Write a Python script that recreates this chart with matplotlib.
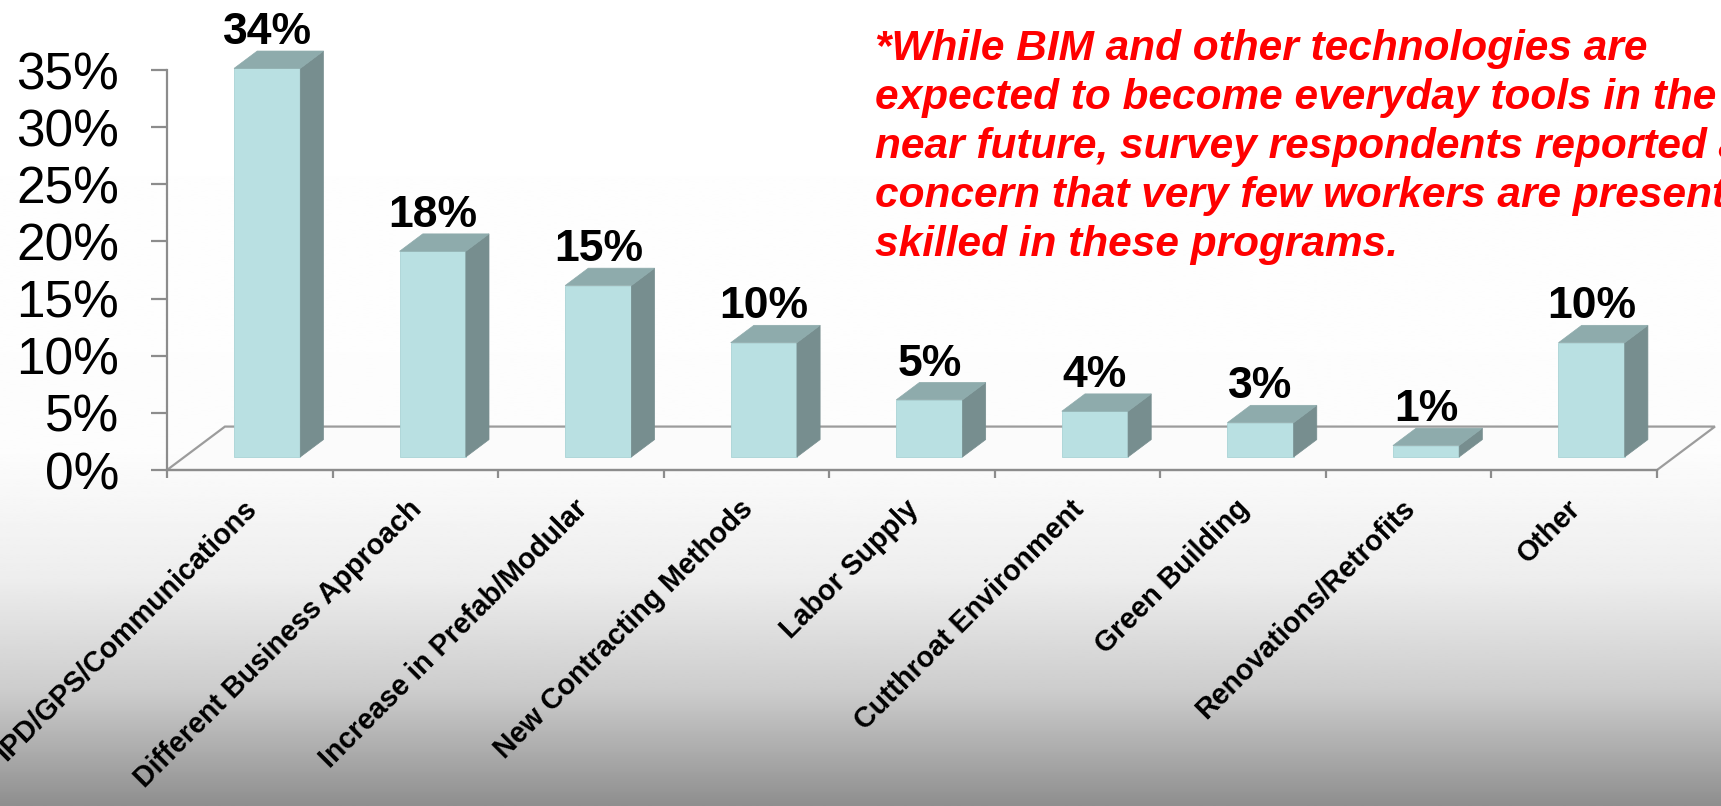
import numpy as np
import matplotlib.pyplot as plt
from matplotlib.patches import Polygon
from matplotlib.transforms import ScaledTranslation

# data
categories = ['IPD/GPS/Communications', 'Different Business Approach',
              'Increase in Prefab/Modular', 'New Contracting Methods',
              'Labor Supply', 'Cutthroat Environment', 'Green Building',
              'Renovations/Retrofits', 'Other']
shares = [34, 18, 15, 10, 5, 4, 3, 1, 10]
yticks = [0, 5, 10, 15, 20, 25, 30, 35]
note_lines = ['*While BIM and other technologies are',
              'expected to become everyday tools in the',
              'near future, survey respondents reported a',
              'concern that very few workers are presently',
              'skilled in these programs.']

plt.rcParams['font.family'] = ['Liberation Sans', 'DejaVu Sans']

W, H = 1721, 806
fig = plt.figure(figsize=(W / 100, H / 100), dpi=100)

# grey gradient background at the bottom of the slide
bg = fig.add_axes([0, 0, 1, 1])
bg.axis('off')
rows = np.linspace(0, 1, 400)
shade = np.interp(rows, [0, 0.56, 0.72, 0.86, 1.0], [1.0, 0.99, 0.93, 0.80, 0.56])
bg.imshow(np.repeat(shade[:, None], 2, axis=1), cmap='gray', vmin=0, vmax=1,
          aspect='auto', extent=[0, 1, 0, 1], interpolation='bilinear')

# main axes: x -0.5..8.5 spans px 167..1657, y 0..35 spans px 470..70
ax = fig.add_axes([167 / W, (H - 470) / H, 1490 / W, 400 / H])
ax.set_xlim(-0.5, len(categories) - 0.5)
ax.set_ylim(0, 35)
ax.patch.set_visible(False)

grey = '#8c8c8c'
for s in ['top', 'right']:
    ax.spines[s].set_visible(False)
for s in ['left', 'bottom']:
    ax.spines[s].set_color(grey)
    ax.spines[s].set_linewidth(1.6)

# fake 3D depth (data units)
DX, DY = 0.35, 3.8
front_col, top_col, side_col = '#b9e0e2', '#8eabac', '#778e8f'

# floor
x0, x1 = -0.5, len(categories) - 0.5
floor = Polygon([(x0, 0), (x0 + DX, DY), (x1 + DX, DY), (x1, 0)],
                closed=True, facecolor='#fbfbfb', edgecolor='#9c9c9c',
                lw=1.6, clip_on=False, zorder=1)
ax.add_patch(floor)

xs = np.arange(len(categories))
fx = xs + 0.3 * DX
base = 0.3 * DY
bw = 0.4
ddx, ddy = 0.4 * DX, 0.4 * DY
ax.bar(fx, shares, width=bw, bottom=base, color=front_col,
       edgecolor='#a9d3d5', lw=0.6, zorder=3, clip_on=False)
for xc, v in zip(fx, shares):
    l, r = xc - bw / 2, xc + bw / 2
    t = base + v
    side = Polygon([(r, base), (r + ddx, base + ddy), (r + ddx, t + ddy), (r, t)],
                   closed=True, facecolor=side_col, edgecolor=side_col, lw=0.5,
                   clip_on=False, zorder=3)
    top = Polygon([(l, t), (l + ddx, t + ddy), (r + ddx, t + ddy), (r, t)],
                  closed=True, facecolor=top_col, edgecolor=top_col, lw=0.5,
                  clip_on=False, zorder=3)
    ax.add_patch(side)
    ax.add_patch(top)
    ax.text(xc, t + ddy + 0.6, f'{v}%', ha='center', va='baseline',
            fontsize=32, fontweight='bold', color='black', zorder=4)

# y axis
ax.set_yticks(yticks)
ax.set_yticklabels([f'{t}%' for t in yticks], fontsize=37)
ax.tick_params(axis='y', length=11.5, width=1.6, color=grey, pad=23)

# x axis: boundary ticks plus rotated category labels
ax.set_xticks(np.arange(-0.5, len(categories)), minor=True)
ax.tick_params(axis='x', which='minor', length=6, width=1.6, color=grey)
ax.set_xticks(xs)
ax.set_xticklabels(categories, rotation=45, ha='right', va='center',
                   rotation_mode='anchor', fontsize=20.6, fontweight='bold')
ax.tick_params(axis='x', which='major', length=0, pad=25)
for lab in ax.get_xticklabels():
    lab.set_transform(lab.get_transform() + ScaledTranslation(0.02, 0, fig.dpi_scale_trans))

# red note
for k, line in enumerate(note_lines):
    fig.text(875 / W, 1 - (60 + 49 * k) / H, line, color='#ff0000',
             fontsize=30.5, fontweight='bold', fontstyle='italic',
             ha='left', va='baseline')

fig.savefig('out.png', dpi=100)
